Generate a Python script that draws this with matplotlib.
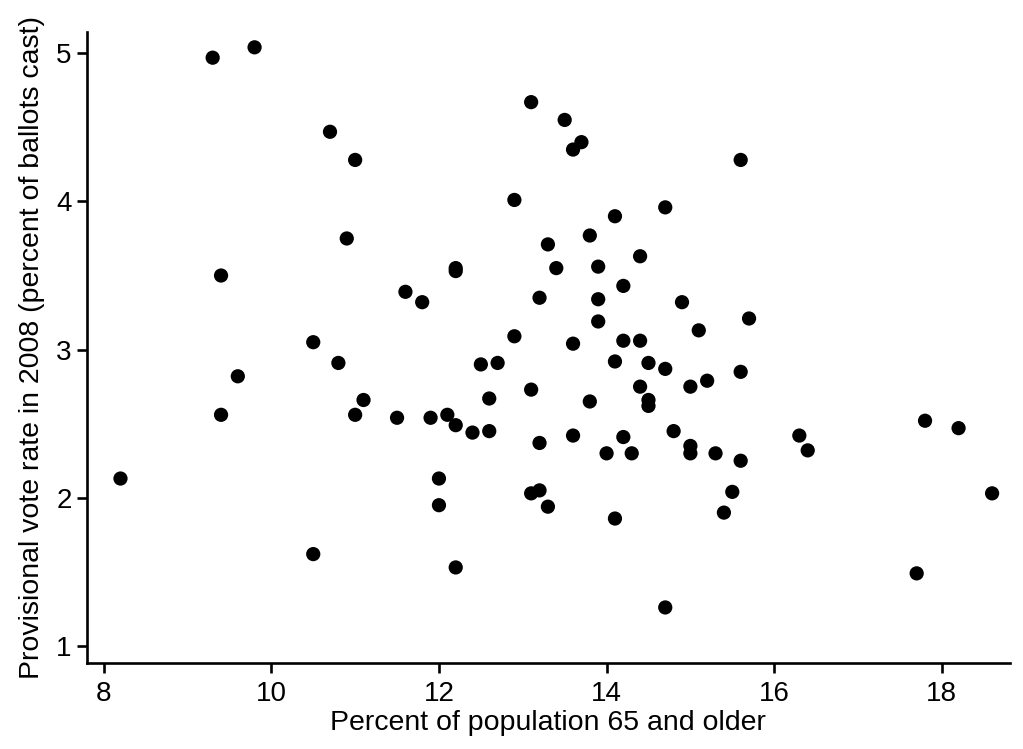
import numpy as np
import matplotlib.pyplot as plt

plt.rcParams['font.family'] = ['Liberation Sans', 'DejaVu Sans']

# percent of population 65 and older
pct65 = [9.3, 9.8, 10.7, 11.0, 10.9, 9.4, 11.6, 10.5, 13.1, 13.5,
         13.7, 13.6, 12.9, 14.7, 14.1, 13.8, 13.3, 14.4, 12.2, 12.2,
         13.4, 13.9, 11.8, 14.2, 13.2, 13.9, 14.9, 13.9, 15.1, 12.9,
         13.6, 14.2, 14.4, 15.6, 15.7, 10.8, 9.6, 9.4, 11.1, 11.0,
         11.5, 8.2, 10.5, 12.5, 12.7, 14.1, 14.5, 14.7, 13.1, 14.4,
         15.0, 15.2, 13.8, 14.5, 14.5, 11.9, 12.1, 12.2, 12.4, 12.6,
         12.6, 13.2, 13.6, 14.2, 14.0, 14.3, 14.8, 15.0, 15.0, 15.3,
         12.0, 12.0, 13.1, 13.2, 13.3, 14.1, 12.2, 14.7, 15.6, 17.8,
         18.2, 16.3, 16.4, 15.6, 15.5, 15.4, 18.6, 17.7]

# provisional vote rate 2008
prov_rate = [4.97, 5.04, 4.47, 4.28, 3.75, 3.50, 3.39, 3.05, 4.67, 4.55,
             4.40, 4.35, 4.01, 3.96, 3.90, 3.77, 3.71, 3.63, 3.55, 3.53,
             3.55, 3.56, 3.32, 3.43, 3.35, 3.34, 3.32, 3.19, 3.13, 3.09,
             3.04, 3.06, 3.06, 4.28, 3.21, 2.91, 2.82, 2.56, 2.66, 2.56,
             2.54, 2.13, 1.62, 2.90, 2.91, 2.92, 2.91, 2.87, 2.73, 2.75,
             2.75, 2.79, 2.65, 2.66, 2.62, 2.54, 2.56, 2.49, 2.44, 2.45,
             2.67, 2.37, 2.42, 2.41, 2.30, 2.30, 2.45, 2.35, 2.30, 2.30,
             2.13, 1.95, 2.03, 2.05, 1.94, 1.86, 1.53, 1.26, 2.85, 2.52,
             2.47, 2.42, 2.32, 2.25, 2.04, 1.90, 2.03, 1.49]

xticks = [8, 10, 12, 14, 16, 18]
yticks = [1, 2, 3, 4, 5]

fig = plt.figure(figsize=(10.23, 7.49), dpi=100)
ax = fig.add_axes([0.085, 0.1148, 0.902, 0.843])

ax.scatter(pct65, prov_rate, s=105, color='black', edgecolors='none', zorder=3)

ax.set_xlim(7.80, 18.81)
ax.set_ylim(0.885, 5.146)
ax.set_xticks(xticks)
ax.set_yticks(yticks)

for side in ['top', 'right']:
    ax.spines[side].set_visible(False)
for side in ['left', 'bottom']:
    ax.spines[side].set_linewidth(1.9)

ax.tick_params(axis='both', length=7, width=1.9, labelsize=20, colors='black')
ax.tick_params(axis='x', pad=6)
ax.tick_params(axis='y', pad=4)

ax.set_xlabel('Percent of population 65 and older', size=20.5, labelpad=2)
ax.set_ylabel('Provisional vote rate in 2008 (percent of ballots cast)', size=20.5, labelpad=8)

fig.savefig('out.png', dpi=100)
